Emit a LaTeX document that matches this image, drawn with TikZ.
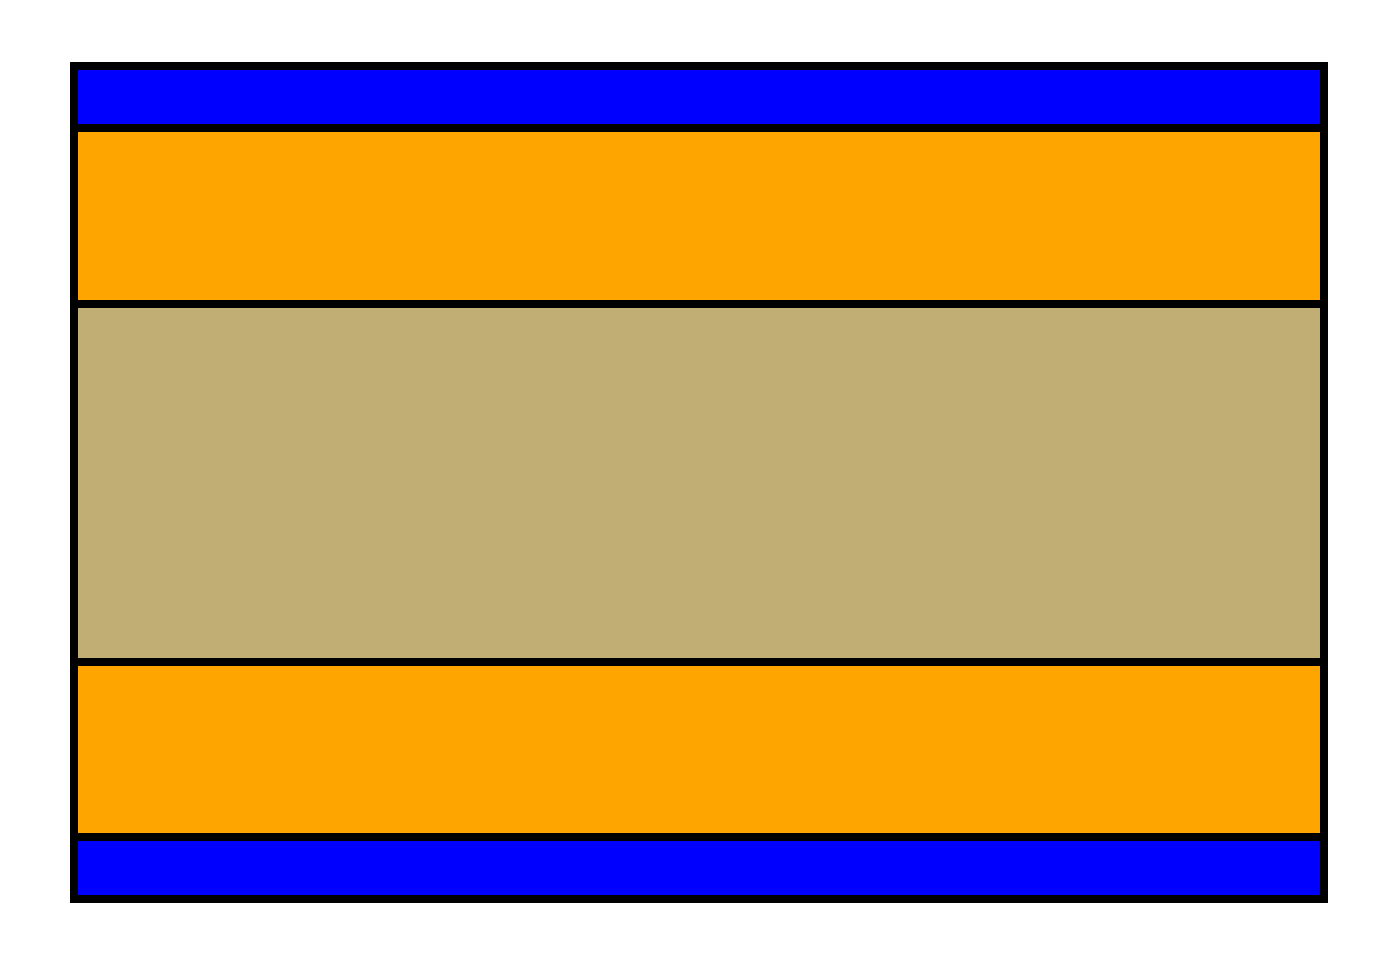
\documentclass[tikz,border=0pt]{standalone}
\definecolor{layerblue}{RGB}{0,0,255}
\definecolor{layerorange}{RGB}{255,165,0}
\definecolor{layercore}{RGB}{193,174,116}
\tikzset{layer/.style={draw=black,line width=8pt}}
\begin{document}
\begin{tikzpicture}[x=1pt,y=-1pt]
\useasboundingbox (0,0) rectangle (1397,959);
\fill[white] (0,0) rectangle (1397,959);
\draw[layer,fill=layerblue] (74,66) rectangle (1324,128);
\draw[layer,fill=layerorange] (74,128) rectangle (1324,303.5);
\draw[layer,fill=layercore] (74,303.5) rectangle (1324,661.5);
\draw[layer,fill=layerorange] (74,661.5) rectangle (1324,837);
\draw[layer,fill=layerblue] (74,837) rectangle (1324,899);
\end{tikzpicture}
\end{document}
